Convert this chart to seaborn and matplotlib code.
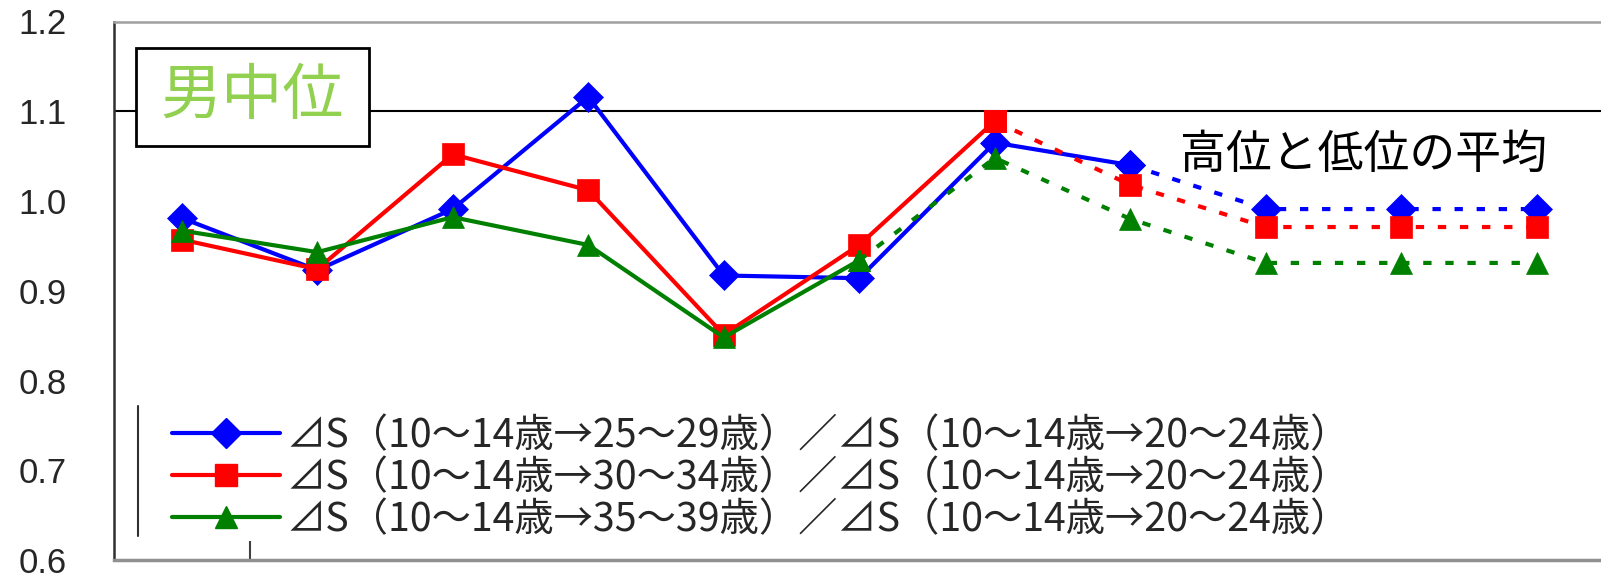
import matplotlib
matplotlib.use("Agg")
import matplotlib.pyplot as plt
import seaborn as sns
import pandas as pd
from matplotlib.lines import Line2D
from matplotlib.patches import Rectangle

# ---- data ----
positions = list(range(11))
blue_vals = [0.981, 0.923, 0.991, 1.116, 0.917, 0.914, 1.065, 1.040, 0.991, 0.991, 0.991]
red_vals = [0.957, 0.924, 1.052, 1.012, 0.851, 0.951, 1.089, 1.018, 0.971, 0.971, 0.971]
green_vals = [0.967, 0.943, 0.982, 0.951, 0.848, 0.934, 1.048, 0.980, 0.931, 0.931, 0.931]
solid_until = [7, 6, 5]  # last index of solid segment, per series
series_labels = [
    "⊿S（10～14歳→25～29歳）／⊿S（10～14歳→20～24歳）",
    "⊿S（10～14歳→30～34歳）／⊿S（10～14歳→20～24歳）",
    "⊿S（10～14歳→35～39歳）／⊿S（10～14歳→20～24歳）",
]
y_ticks = [0.6, 0.7, 0.8, 0.9, 1.0, 1.1, 1.2]
y_tick_labels = ["0.6", "0.7", "0.8", "0.9", "1.0", "1.1", "1.2"]
title_text = "男中位"
note_text = "高位と低位の平均"

colors = ["#0000FF", "#FF0000", "#008000"]
markers = ["D", "s", "^"]
msizes = [15, 16, 16]

sns.set_theme(style="white")
plt.rcParams['font.family'] = ['Noto Sans CJK JP', 'DejaVu Sans']

W, H = 1601, 581
fig = plt.figure(figsize=(W / 100, H / 100), dpi=100)
ax = fig.add_axes([114 / W, 21 / H, 1490.5 / W, 538.5 / H])

all_vals = [blue_vals, red_vals, green_vals]
handles = []
for vals, end, col, mk, ms, lab in zip(all_vals, solid_until, colors, markers, msizes, series_labels):
    df = pd.DataFrame({"x": positions, "y": vals})
    solid = df[df.x <= end]
    dashed = df[df.x >= end]
    sns.lineplot(data=solid, x="x", y="y", ax=ax, color=col, linewidth=3,
                 marker=mk, markersize=ms, markeredgecolor=col, markeredgewidth=0.5)
    sns.lineplot(data=dashed, x="x", y="y", ax=ax, color=col, linewidth=3,
                 linestyle=(0, (2, 3.3)), marker=mk, markersize=ms,
                 markeredgecolor=col, markeredgewidth=0.5)
    handles.append(Line2D([], [], color=col, linewidth=3, marker=mk, markersize=ms,
                          markeredgecolor=col))

ax.axhline(1.1, color="black", linewidth=1.5, zorder=1)

ax.set_xlim(-0.5, 10.5)
ax.set_ylim(0.6, 1.2)
ax.set_xticks([0.5])
ax.set_xticklabels([""])
ax.tick_params(axis="x", direction="in", length=14, width=1.5, color="#404040", bottom=True)
ax.set_yticks(y_ticks)
ax.set_yticklabels(y_tick_labels, fontsize=25, family="Liberation Sans")
ax.tick_params(axis="y", length=0, pad=34)
ax.set_xlabel("")
ax.set_ylabel("")

ax.spines["left"].set_color("#303030")
ax.spines["left"].set_linewidth(1.8)
ax.spines["top"].set_color("#a0a0a0")
ax.spines["top"].set_linewidth(1.8)
ax.spines["bottom"].set_color("#909090")
ax.spines["bottom"].set_linewidth(2.5)
ax.spines["right"].set_visible(False)

leg = ax.legend(handles, series_labels, loc="lower left",
                bbox_to_anchor=(172 / W, 1 - 540 / H), bbox_transform=fig.transFigure,
                frameon=False, fontsize=28.3, handlelength=2.75, handletextpad=0.15,
                labelspacing=0.05, borderpad=0, borderaxespad=0)

# decorative vertical bar left of legend
fig.add_artist(Line2D([138 / W, 138 / W], [1 - 406 / H, 1 - 536 / H],
                      transform=fig.transFigure, color="#303030", linewidth=1.5))

# title box
fig.add_artist(Rectangle((136 / W, 1 - 146 / H), 233 / W, 98 / H, transform=fig.transFigure,
                         facecolor="white", edgecolor="black", linewidth=2, zorder=5))
fig.text(252 / W, 1 - 97 / H, title_text, color="#92D050", fontsize=44,
         ha="center", va="center", zorder=6)

fig.text(1180 / W, 1 - 155 / H, note_text, color="black", fontsize=33,
         ha="left", va="center")

fig.savefig("out.png", dpi=100)
